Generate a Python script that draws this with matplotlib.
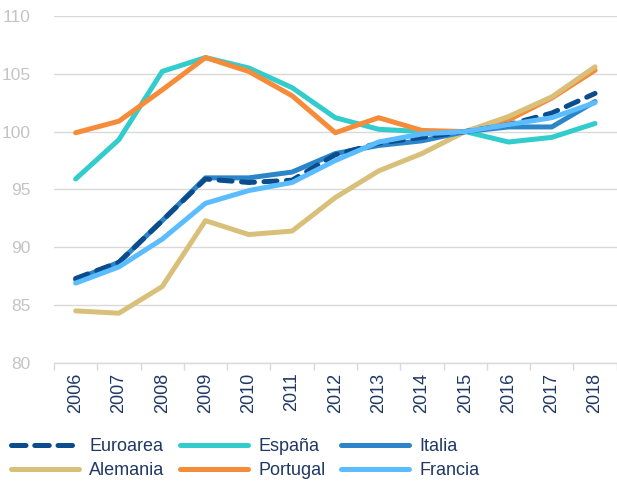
import matplotlib
matplotlib.use('Agg')
from matplotlib import pyplot as plt
from matplotlib.lines import Line2D
from matplotlib.ticker import FixedLocator

plt.rcParams['font.family'] = ['Liberation Sans', 'DejaVu Sans']

# Datos (indice 2015 = 100)
years = list(range(2006, 2019))
euroarea = [87.3, 88.7, 92.3, 95.9, 95.6, 95.8, 98.0, 99.0, 99.5, 100.0, 100.6, 101.6, 103.3]
espana = [95.9, 99.3, 105.2, 106.4, 105.5, 103.8, 101.2, 100.2, 100.0, 100.0, 99.1, 99.5, 100.7]
italia = [87.2, 88.7, 92.3, 96.0, 96.0, 96.5, 98.1, 98.8, 99.2, 100.0, 100.4, 100.4, 102.6]
alemania = [84.5, 84.3, 86.6, 92.3, 91.1, 91.4, 94.3, 96.6, 98.1, 100.0, 101.3, 103.0, 105.6]
portugal = [99.9, 100.9, 103.6, 106.4, 105.2, 103.1, 99.9, 101.2, 100.1, 100.0, 101.0, 102.9, 105.3]
francia = [86.9, 88.3, 90.7, 93.8, 94.9, 95.6, 97.5, 99.1, 99.8, 100.0, 100.6, 101.2, 102.5]

navy = '#1F3864'
grid_col = '#D9D9D9'
euro_col = '#0B4C8C'

fig = plt.figure(figsize=(6.17, 4.82), dpi=100)
ax = fig.add_axes([0.0875, 0.247, 0.912, 0.72])

lw = 3.6
ax.plot(years, espana, color='#33CCCC', lw=lw, label='España', solid_capstyle='round', zorder=3)
ax.plot(years, portugal, color='#F68B3A', lw=lw, label='Portugal', solid_capstyle='round', zorder=3)
ax.plot(years, alemania, color='#D9C07A', lw=lw, label='Alemania', solid_capstyle='round', zorder=3)
ax.plot(years, italia, color='#2B85C8', lw=lw, label='Italia', solid_capstyle='round', zorder=4)
ax.plot(years, euroarea, color=euro_col, lw=lw, label='Euroarea', dashes=(2.6, 1.9),
        dash_capstyle='round', zorder=5)
ax.plot(years, francia, color='#5BBCFF', lw=lw, label='Francia', solid_capstyle='round', zorder=6)

ax.set_ylim(80, 110)
ax.set_yticks(range(80, 111, 5))
ax.set_xlim(years[0] - 0.5, years[-1] + 0.5)
ax.set_xticks(years)
ax.set_xticklabels([str(y) for y in years], rotation=90, color=navy, fontsize=13)
ax.tick_params(axis='x', length=0, pad=7)
ax.xaxis.set_minor_locator(FixedLocator([y - 0.5 for y in years] + [years[-1] + 0.5]))
ax.tick_params(axis='x', which='minor', length=5, color=grid_col, width=1)
ax.tick_params(axis='y', length=0, colors='#C4C4C4', labelsize=12.5, pad=17)

ax.grid(axis='y', color=grid_col, lw=1)
ax.set_axisbelow(True)
for s in ['top', 'right', 'left']:
    ax.spines[s].set_visible(False)
ax.spines['bottom'].set_color(grid_col)
ax.spines['bottom'].set_linewidth(1)

# leyenda: el trazo de Euroarea en la leyenda tiene guiones mas largos
h, l = ax.get_legend_handles_labels()
order = ['Euroarea', 'Alemania', 'España', 'Portugal', 'Italia', 'Francia']
hh = [h[l.index(n)] for n in order]
hh[0] = Line2D([], [], color=euro_col, lw=lw, dashes=(2.9, 1.75), dash_capstyle='round')
leg = fig.legend(hh, order, loc='lower left', bbox_to_anchor=(0.004, -0.011), ncol=3,
                 frameon=False, fontsize=13, handlelength=3.8, handletextpad=0.55,
                 columnspacing=0.85, labelspacing=0.38, borderaxespad=0.0,
                 borderpad=0.45)
for t in leg.get_texts():
    t.set_color(navy)

fig.savefig('out.png', dpi=100)
